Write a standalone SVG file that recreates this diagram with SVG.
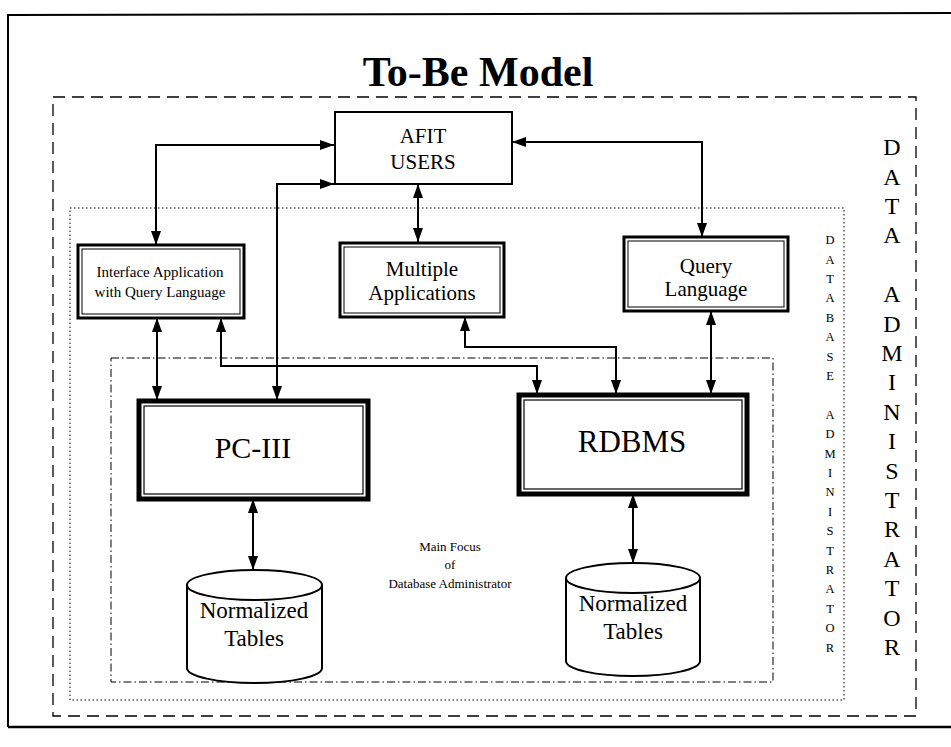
<svg xmlns="http://www.w3.org/2000/svg" width="951" height="747" viewBox="0 0 951 747">
<defs>
<marker id="ah" viewBox="0 0 14 10" refX="14" refY="5" markerWidth="14" markerHeight="10" markerUnits="userSpaceOnUse" orient="auto-start-reverse">
<path d="M0,0 L14,5 L0,10 Z" fill="#000"/>
</marker>
</defs>
<style>
text{font-family:"Liberation Serif","Times New Roman",serif;fill:#000;text-anchor:middle}
.conn{fill:none;stroke:#000;stroke-width:2;marker-start:url(#ah);marker-end:url(#ah)}
.box2o{fill:#fff;stroke:#000;stroke-width:3}
.box2i{fill:none;stroke:#000;stroke-width:1}
.box3o{fill:#fff;stroke:#000;stroke-width:5}
.box3i{fill:none;stroke:#000;stroke-width:1.2}
.cyl{fill:#fff;stroke:#000;stroke-width:2}
.da{font-size:24px}
.dba{font-size:12.5px}
.nt{font-size:23px}
</style>
<rect x="0" y="0" width="951" height="747" fill="#fff"/>
<g id="frame">
<path d="M8,727 L8,15 L951,13" fill="none" stroke="#000" stroke-width="2"/>
<path d="M8,727 L951,727" fill="none" stroke="#000" stroke-width="2.5"/>
</g>
<text x="478" y="86" style="font-size:42px;font-weight:bold">To-Be Model</text>
<g id="data-admin-boundary">
<rect x="53" y="97" width="863" height="619" fill="none" stroke="#000" stroke-width="1.3" stroke-dasharray="12,7"/>
<g class="da">
<text x="892" y="155">D</text><text x="892" y="185">A</text><text x="892" y="214">T</text><text x="892" y="243">A</text>
<text x="892" y="302">A</text><text x="892" y="332">D</text><text x="892" y="361">M</text><text x="892" y="390">I</text><text x="892" y="420">N</text><text x="892" y="449">I</text><text x="892" y="479">S</text><text x="892" y="508">T</text><text x="892" y="537">R</text><text x="892" y="567">A</text><text x="892" y="596">T</text><text x="892" y="626">O</text><text x="892" y="655">R</text>
</g>
</g>
<g id="dba-boundary">
<rect x="70" y="208" width="774" height="492" fill="none" stroke="#000" stroke-width="1" stroke-dasharray="1.5,2.5"/>
<g class="dba">
<text x="830" y="244">D</text><text x="830" y="264">A</text><text x="830" y="283">T</text><text x="830" y="302">A</text><text x="830" y="322">B</text><text x="830" y="341">A</text><text x="830" y="361">S</text><text x="830" y="380">E</text>
<text x="830" y="419">A</text><text x="830" y="438">D</text><text x="830" y="458">M</text><text x="830" y="477">I</text><text x="830" y="496">N</text><text x="830" y="516">I</text><text x="830" y="535">S</text><text x="830" y="555">T</text><text x="830" y="574">R</text><text x="830" y="593">A</text><text x="830" y="613">T</text><text x="830" y="632">O</text><text x="830" y="652">R</text>
</g>
</g>
<g id="main-focus">
<rect x="111" y="358" width="662" height="324" fill="none" stroke="#000" stroke-width="1" stroke-dasharray="8,3,1.5,3"/>
<text x="450" y="551" style="font-size:13px">Main Focus</text>
<text x="450" y="569" style="font-size:13px">of</text>
<text x="450" y="588" style="font-size:13px">Database Administrator</text>
</g>
<g id="connectors">
<path class="conn" d="M156,245 L156,145 L334,145"/>
<path class="conn" d="M277,400 L277,184 L334,184"/>
<path class="conn" d="M418,184 L418,242"/>
<path class="conn" d="M512,142 L702,142 L702,237"/>
<path class="conn" d="M157,318 L157,400"/>
<path class="conn" d="M221,318 L221,366 L537,366 L537,394"/>
<path class="conn" d="M465,317 L465,347 L616,347 L616,394"/>
<path class="conn" d="M711,311 L711,394"/>
<path class="conn" d="M253,499 L253,570"/>
<path class="conn" d="M633,494 L633,563"/>
</g>
<g id="afit-users">
<rect x="335" y="112" width="177" height="72" fill="#fff" stroke="#000" stroke-width="2"/>
<text x="423" y="143" style="font-size:21px">AFIT</text>
<text x="423" y="169" style="font-size:21px">USERS</text>
</g>
<g id="interface-app">
<rect class="box2o" x="78" y="245" width="166" height="73"/>
<rect class="box2i" x="82" y="249" width="158" height="65"/>
<text x="160" y="277" style="font-size:15px">Interface Application</text>
<text x="160" y="297" style="font-size:15px">with Query Language</text>
</g>
<g id="multiple-apps">
<rect class="box2o" x="340" y="243" width="164" height="74"/>
<rect class="box2i" x="344" y="247" width="156" height="66"/>
<text x="422" y="276" style="font-size:21px">Multiple</text>
<text x="422" y="300" style="font-size:21px">Applications</text>
</g>
<g id="query-language">
<rect class="box2o" x="624" y="237" width="164" height="74"/>
<rect class="box2i" x="628" y="241" width="156" height="66"/>
<text x="706" y="273" style="font-size:21px">Query</text>
<text x="706" y="296" style="font-size:21px">Language</text>
</g>
<g id="pc-iii">
<rect class="box3o" x="139" y="401" width="229" height="98"/>
<rect class="box3i" x="144" y="406" width="219" height="88"/>
<text x="253" y="458" style="font-size:30px">PC-III</text>
</g>
<g id="rdbms">
<rect class="box3o" x="519" y="395" width="228" height="99"/>
<rect class="box3i" x="524" y="400" width="218" height="89"/>
<text x="632" y="452" style="font-size:31px">RDBMS</text>
</g>
<g id="tables-1">
<path class="cyl" d="M187,585 L187,668 A67.5,15 0 0 0 322,668 L322,585"/>
<ellipse class="cyl" cx="254.5" cy="585" rx="67.5" ry="15"/>
<text class="nt" x="254" y="618">Normalized</text>
<text class="nt" x="254" y="646">Tables</text>
</g>
<g id="tables-2">
<path class="cyl" d="M566,578 L566,661 A67,15 0 0 0 700,661 L700,578"/>
<ellipse class="cyl" cx="633" cy="578" rx="67" ry="15"/>
<text class="nt" x="633" y="611">Normalized</text>
<text class="nt" x="633" y="639">Tables</text>
</g>
</svg>
